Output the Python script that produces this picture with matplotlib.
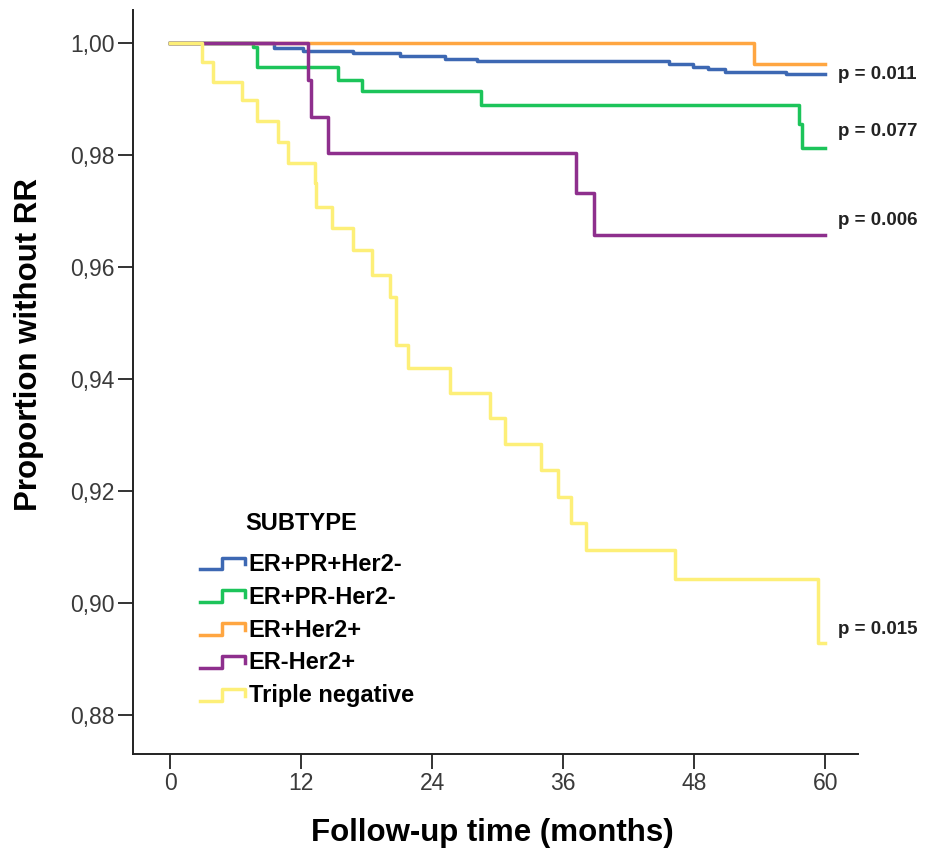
import matplotlib
matplotlib.use("Agg")
import matplotlib.pyplot as plt
from matplotlib.legend_handler import HandlerBase
from matplotlib.lines import Line2D
from matplotlib.ticker import FuncFormatter

# Datos de Kaplan-Meier (meses, proporcion sin RR)
blue_t = [0, 9.5, 12.2, 16.8, 21.1, 25.2, 28.1, 45.7, 47.9, 49.3, 50.8, 56.4, 60]
blue_s = [1.0, 0.9991, 0.9986, 0.99815, 0.99766, 0.99716, 0.9968, 0.99625, 0.99575, 0.9953, 0.9948, 0.99445, 0.99445]

green_t = [0, 7.6, 8.0, 15.4, 17.6, 28.5, 57.6, 57.9, 60]
green_s = [1.0, 0.9993, 0.99577, 0.99339, 0.99143, 0.9889, 0.9855, 0.9813, 0.9813]

orange_t = [0, 53.5, 60]
orange_s = [1.0, 0.99625, 0.99625]

purple_t = [0, 12.65, 12.95, 14.5, 37.2, 38.8, 60]
purple_s = [1.0, 0.99339, 0.98684, 0.9803, 0.97316, 0.96571, 0.96571]

yellow_t = [0, 2.9, 3.95, 6.55, 8.0, 9.9, 10.8, 13.25, 13.4, 14.8, 16.8, 18.5, 20.1, 20.7,
            21.8, 25.6, 29.3, 30.7, 34.0, 35.5, 36.75, 38.1, 46.2, 59.3, 60]
yellow_s = [1.0, 0.99666, 0.99309, 0.98982, 0.98607, 0.98238, 0.97851, 0.9750, 0.9708,
            0.9669, 0.9630, 0.95857, 0.9547, 0.9460, 0.94191, 0.93756, 0.93299, 0.92839,
            0.92375, 0.91898, 0.91423, 0.90946, 0.90423, 0.89291, 0.89291]

labels = ["ER+PR+Her2-", "ER+PR-Her2-", "ER+Her2+", "ER-Her2+", "Triple negative"]
colors = ["#3d68b3", "#1cc45a", "#ffa641", "#8e2f8d", "#fdef78"]

p_texts = ["p = 0.011", "p = 0.077", "p = 0.006", "p = 0.015"]
p_y = [0.99446, 0.98429, 0.96839, 0.89518]

x_ticks = [0, 12, 24, 36, 48, 60]
y_ticks = [0.88, 0.90, 0.92, 0.94, 0.96, 0.98, 1.00]

bold_font = ["Liberation Sans", "DejaVu Sans"]


class StepHandler(HandlerBase):
    # dibuja el simbolo escalonado de la leyenda de SPSS
    def create_artists(self, legend, orig_handle, xdescent, ydescent,
                       width, height, fontsize, trans):
        x0 = -xdescent
        y0 = -ydescent
        xs = [x0, x0 + 0.5 * width, x0 + 0.5 * width, x0 + width, x0 + width]
        ys = [y0 + 0.1 * height, y0 + 0.1 * height, y0 + 0.8 * height,
              y0 + 0.8 * height, y0 + 0.4 * height]
        line = Line2D(xs, ys, color=orig_handle.get_color(),
                      lw=orig_handle.get_linewidth(), transform=trans)
        return [line]


fig = plt.figure(figsize=(9.38, 8.56), dpi=100)
ax = fig.add_axes([0.1418, 0.1192, 0.7729, 0.8691])

series = [(blue_t, blue_s), (green_t, green_s), (orange_t, orange_s),
          (purple_t, purple_s), (yellow_t, yellow_s)]
handles = []
for (t, s), lab, col in zip(series, labels, colors):
    h, = ax.step(t, s, where="post", color=col, lw=2.5, label=lab)
    handles.append(h)

for txt, y in zip(p_texts, p_y):
    ax.text(61.2, y, txt, fontsize=13.5, fontweight="bold", family=bold_font,
            color="#222222", va="center", ha="left")

ax.set_xlim(-3.39, 63.0)
ax.set_ylim(0.87304, 1.0059)
ax.set_xticks(x_ticks)
ax.set_yticks(y_ticks)
ax.yaxis.set_major_formatter(FuncFormatter(lambda v, pos: f"{v:.2f}".replace(".", ",")))

for side in ["top", "right"]:
    ax.spines[side].set_visible(False)
for side in ["left", "bottom"]:
    ax.spines[side].set_linewidth(1.4)
    ax.spines[side].set_color("#222222")

ax.tick_params(axis="both", direction="out", length=11, width=1.4, color="#333333",
               labelsize=16.5, labelcolor="#3a3a3a", pad=2)
for lab in ax.get_xticklabels() + ax.get_yticklabels():
    lab.set_family(["Liberation Sans", "DejaVu Sans"])

ax.set_xlabel("Follow-up time (months)", fontsize=22.5, fontweight="bold",
              family=bold_font, va="center")
ax.xaxis.set_label_coords(0.495, -0.106)
ax.set_ylabel("Proportion without RR", fontsize=22.5, fontweight="bold",
              family=bold_font, va="center")
ax.yaxis.set_label_coords(-0.143, 0.55)

leg = ax.legend(handles=handles, labels=labels,
                handler_map={Line2D: StepHandler()},
                loc="upper left", bbox_to_anchor=(0.092, 0.2705),
                frameon=False, handlelength=1.9, handletextpad=0.18,
                labelspacing=0.42, borderaxespad=0, borderpad=0,
                prop={"family": bold_font, "weight": "bold", "size": 17})
ax.text(0.232, 0.31, "SUBTYPE", transform=ax.transAxes, fontsize=17,
        fontweight="bold", family=bold_font, ha="center", va="center")

fig.savefig("out.png", dpi=100)
